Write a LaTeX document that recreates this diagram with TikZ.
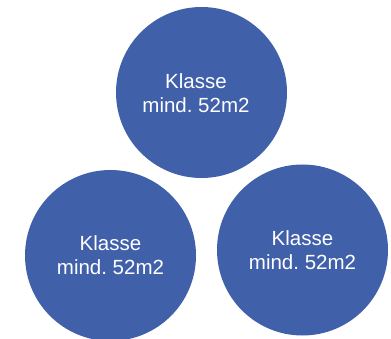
\documentclass[tikz,border=0pt]{standalone}
\usepackage{fontspec}
\setmainfont{Liberation Sans}
\definecolor{circblue}{RGB}{65,96,170}
\begin{document}
\begin{tikzpicture}[x=1pt,y=-1pt,
  room/.style={circle,fill=circblue,text=white,minimum size=171pt,inner sep=0pt,
    align=center,font=\fontsize{20.5}{24}\selectfont}]
\useasboundingbox (0,0) rectangle (391,339);
\node[room] (top) at (201.5,92.5) {};
\node[text=white,align=center,font=\fontsize{20.5}{24}\selectfont] (toptext) at (196,93) {Klasse\\mind.\ 52m2};
\node[room] (left) at (110.5,255.5) {Klasse\\mind.\ 52m2};
\node[room] (right) at (302.5,250) {Klasse\\mind.\ 52m2};
\end{tikzpicture}
\end{document}
